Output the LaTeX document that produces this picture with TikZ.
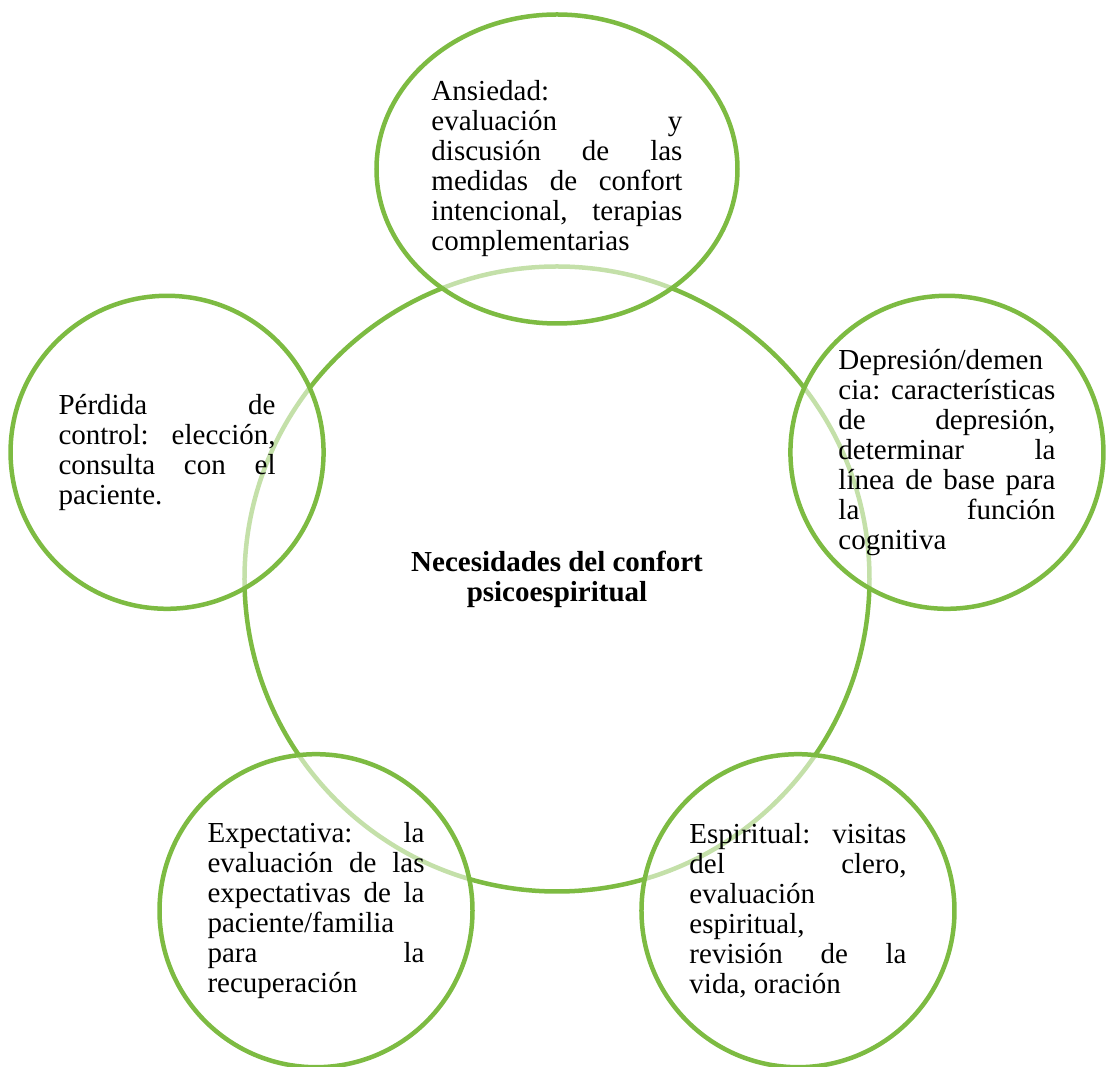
\documentclass[tikz,border=0pt]{standalone}
\usepackage{fontspec}
\setmainfont{Liberation Serif}
\usetikzlibrary{shapes.geometric}
\definecolor{leafgreen}{RGB}{125,187,66}
\tolerance=10000
\hbadness=10000
\hyphenpenalty=10000
\exhyphenpenalty=10000

\begin{document}
\begin{tikzpicture}[
  x=1pt, y=1pt,
  font=\fontsize{29}{30}\selectfont,
  hub/.style={circle, draw=leafgreen, line width=4.5pt, minimum size=625pt, inner sep=0pt, font=\fontsize{29}{30}\selectfont\bfseries, align=center},
  need/.style={circle, draw=leafgreen, line width=4.5pt, fill=white, fill opacity=0.55, text opacity=1, minimum size=313pt, inner sep=0pt, text width=217pt, align=justify},
  needwide/.style={need, ellipse, minimum width=361pt, minimum height=309pt, text width=251pt}
]
  \useasboundingbox (-557,-488) rectangle (549,579);

  \node (hub) [hub] at (0,0) {Necesidades del confort\\psicoespiritual};

  \node (anxiety) [needwide] at (90:410) {Ansiedad:\\ evaluación y\linebreak discusión de las\linebreak medidas de confort\linebreak intencional, terapias\linebreak complementarias};
  \node (depress) [need] at (18:410) {Depresión/demen\\ cia: características\linebreak de depresión,\linebreak determinar la\linebreak línea de base para\linebreak la función\linebreak cognitiva};
  \node (spirit) [need] at (306:410) {Espiritual: visitas\linebreak del clero,\linebreak evaluación\\ espiritual,\\ revisión de la\linebreak vida, oración};
  \node (expect) [need] at (234:410) {Expectativa: la\linebreak evaluación de las\linebreak expectativas de la\linebreak paciente/familia\\ para la\linebreak recuperación};
  \node (control) [need] at (162:410) {Pérdida de\linebreak control: elección,\linebreak consulta con el\linebreak paciente.};
\end{tikzpicture}
\end{document}
